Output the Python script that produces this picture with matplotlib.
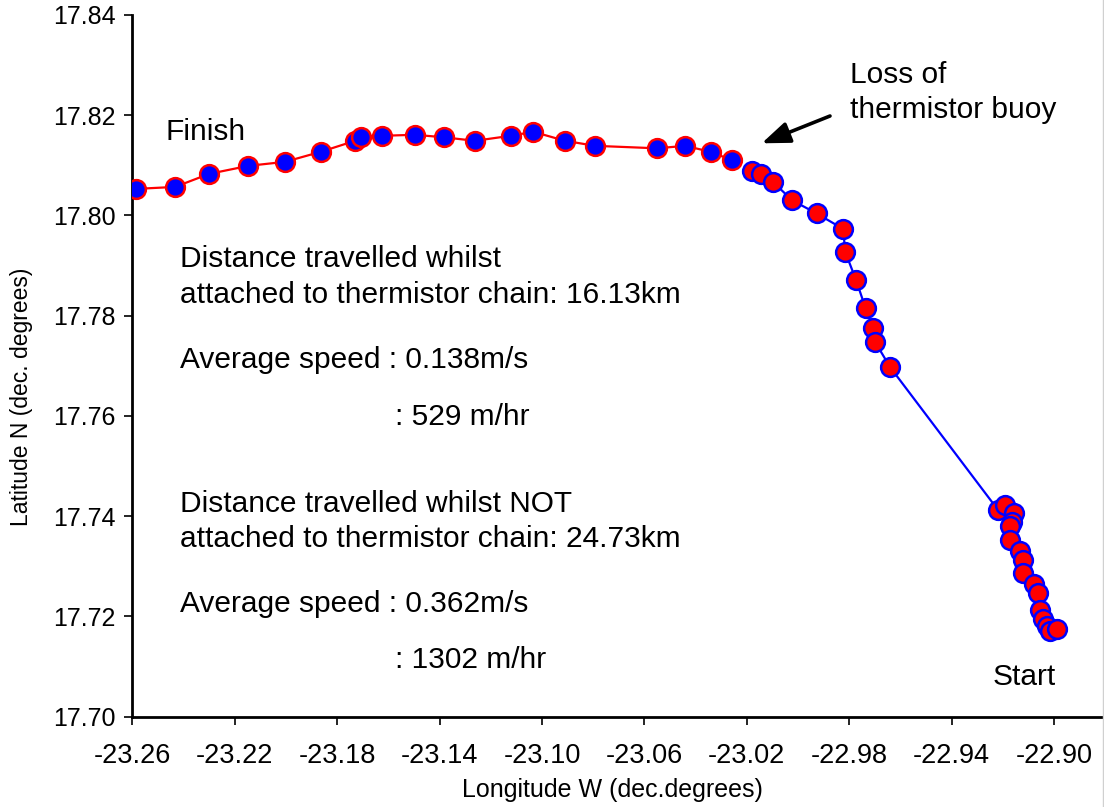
import matplotlib
matplotlib.use("Agg")
import matplotlib.pyplot as plt
from matplotlib.lines import Line2D

plt.rcParams["font.family"] = ["Liberation Sans", "DejaVu Sans"]

# track after the thermistor buoy was lost (Finish end), west of the loss point
lon_after = [-23.2587, -23.2433, -23.2300, -23.2147, -23.2004, -23.1864,
             -23.1730, -23.1708, -23.1624, -23.1496, -23.1383, -23.1262,
             -23.1122, -23.1034, -23.0910, -23.0793, -23.0550, -23.0441,
             -23.0341, -23.0257]
lat_after = [17.8053, 17.8057, 17.8083, 17.8099, 17.8107, 17.8127,
             17.8149, 17.8157, 17.8159, 17.8161, 17.8156, 17.8149,
             17.8159, 17.8167, 17.8149, 17.8139, 17.8134, 17.8139,
             17.8127, 17.8110]

# track while attached to the thermistor chain (from Start)
lon_chain = [-23.0178, -23.0146, -23.0096, -23.0022, -22.9927, -22.9823,
             -22.9816, -22.9773, -22.9736, -22.9706, -22.9699, -22.9641,
             -22.9218, -22.9191, -22.9156, -22.9165, -22.9172, -22.9172,
             -22.9133, -22.9120, -22.9120, -22.9078, -22.9061, -22.9055,
             -22.9042, -22.9026, -22.9016, -22.8989]
lat_chain = [17.8089, 17.8082, 17.8066, 17.8030, 17.8004, 17.7973,
             17.7928, 17.7871, 17.7815, 17.7776, 17.7748, 17.7698,
             17.7412, 17.7422, 17.7407, 17.7389, 17.7380, 17.7353,
             17.7331, 17.7313, 17.7287, 17.7265, 17.7246, 17.7213,
             17.7194, 17.7180, 17.7170, 17.7174]

x_ticks = [-23.26, -23.22, -23.18, -23.14, -23.10, -23.06, -23.02, -22.98, -22.94, -22.90]
y_ticks = [17.70, 17.72, 17.74, 17.76, 17.78, 17.80, 17.82, 17.84]

fig = plt.figure(figsize=(11.04, 8.07), dpi=100)
ax = fig.add_axes([132.3 / 1104, 1 - 716.7 / 807, (1103 - 132.3) / 1104, 701.7 / 807])

ax.plot(lon_after, lat_after, color="#ff0000", lw=1.6, marker="o", ms=13.5,
        mfc="#0000ff", mec="#ff0000", mew=1.8, zorder=3)
ax.plot(lon_chain, lat_chain, color="#0000ff", lw=1.6, marker="o", ms=13.5,
        mfc="#ff0000", mec="#0000ff", mew=1.8, zorder=3)

ax.set_xlim(-23.26, -23.26 + (1103 - 132.3) / 2560.3)
ax.set_ylim(17.70, 17.84)
ax.set_xticks(x_ticks)
ax.set_xticklabels([f"{v:.2f}" for v in x_ticks], fontsize=19.5)
ax.set_yticks(y_ticks)
ax.set_yticklabels([f"{v:.2f}" for v in y_ticks], fontsize=18)
ax.tick_params(axis="x", direction="out", length=6, width=1.2, pad=13)
ax.tick_params(axis="y", direction="out", length=6, width=1.2, pad=6)
for s in ["top", "right"]:
    ax.spines[s].set_visible(False)
for s in ["left", "bottom"]:
    ax.spines[s].set_linewidth(2)

# light border at the right edge of the image
fig.add_artist(Line2D([1103 / 1104, 1103 / 1104], [0, 1], color="#d0d0d0", lw=1))

fig.text(612 / 1104, 1 - 790 / 807, "Longitude W (dec.degrees)", ha="center",
         va="center", fontsize=18)
fig.text(22 / 1104, 1 - 397 / 807, "Latitude N (dec. degrees)", ha="center",
         va="center", rotation=90, fontsize=16.5)

tx = lambda px: -23.26 + (px - 132.3) / 2560.3
ty = lambda py: 17.84 - (py - 15) / 5012

fs = 21.5
ax.text(tx(165), ty(140), "Finish", fontsize=fs, va="baseline")
ax.text(tx(993), ty(685), "Start", fontsize=fs, va="baseline")
ax.text(tx(850), ty(82.7), "Loss of", fontsize=fs, va="baseline")
ax.text(tx(850), ty(118), "thermistor buoy", fontsize=fs, va="baseline")
ax.annotate("", xy=(tx(761.7), ty(143.3)), xytext=(tx(830), ty(116)),
            arrowprops=dict(arrowstyle="-|>,head_length=1.7,head_width=0.65",
                            color="black", lw=2.6, shrinkA=0, shrinkB=0))

lines = [
    (180, 267.3, "Distance travelled whilst"),
    (180, 303.3, "attached to thermistor chain: 16.13km"),
    (180, 368.3, "Average speed : 0.138m/s"),
    (395, 425.0, ": 529 m/hr"),
    (180, 511.7, "Distance travelled whilst NOT"),
    (180, 546.7, "attached to thermistor chain: 24.73km"),
    (180, 611.7, "Average speed : 0.362m/s"),
    (395, 668.3, ": 1302 m/hr"),
]
for px, py, s in lines:
    ax.text(tx(px), ty(py), s, fontsize=fs, va="baseline")

fig.savefig("out.png", dpi=100)
